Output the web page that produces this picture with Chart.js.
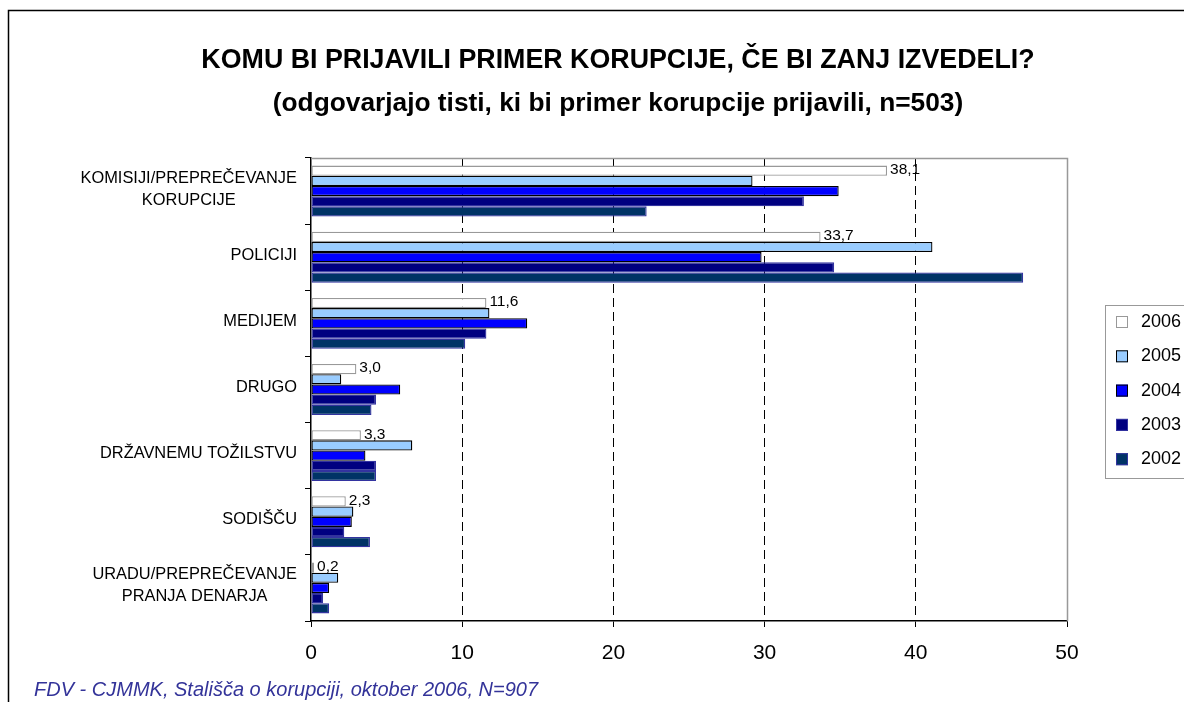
<!DOCTYPE html>
<html>
<head>
<meta charset="utf-8">
<script src="https://cdn.jsdelivr.net/npm/chart.js@4.4.1/dist/chart.umd.min.js"></script>
<style>
  body { margin: 0; background: #fff; }
  canvas { display: block; }
</style>
</head>
<body>
<canvas id="chart" width="1184" height="702"></canvas>
<script>
// podatki
const categories = [
    ["KOMISIJI/PREPREČEVANJE", "KORUPCIJE"],
    ["POLICIJI"],
    ["MEDIJEM"],
    ["DRUGO"],
    ["DRŽAVNEMU TOŽILSTVU"],
    ["SODIŠČU"],
    ["URADU/PREPREČEVANJE", "PRANJA DENARJA"]
];
const years = ["2006", "2005", "2004", "2003", "2002"];
const values2006 = [38.1, 33.7, 11.6, 3.0, 3.3, 2.3, 0.2];
const values2005 = [29.2, 41.1, 11.8, 2.0, 6.7, 2.8, 1.8];
const values2004 = [34.9, 29.8, 14.3, 5.9, 3.6, 2.7, 1.2];
const values2003 = [32.6, 34.6, 11.6, 4.3, 4.3, 2.2, 0.8];
const values2002 = [22.2, 47.1, 10.2, 4.0, 4.3, 3.9, 1.2];
const xTicks = [0, 10, 20, 30, 40, 50];

const titleText = "KOMU BI PRIJAVILI PRIMER KORUPCIJE, ČE BI ZANJ IZVEDELI?";
const subtitleText = "(odgovarjajo tisti, ki bi primer korupcije prijavili, n=503)";
const sourceText = "FDV - CJMMK, Stališča o korupciji, oktober 2006, N=907";

const FONT = "'Liberation Sans', Arial, sans-serif";

const fills = ["#ffffff", "#99ccff", "#0000ff", "#000080", "#003366"];
const borders = ["#999999", "#000000", "#000000", "#3333a0", "#3333a0"];
const allValues = [values2006, values2005, values2004, values2003, values2002];

// okvir, naslovi, oznake kategorij, legenda
const decorPlugin = {
    id: 'decor',
    beforeDraw(chart) {
        const c = chart.ctx;
        c.save();
        c.fillStyle = '#fff';
        c.fillRect(0, 0, chart.width, chart.height);
        c.strokeStyle = '#000';
        c.lineWidth = 1.5;
        c.strokeRect(8.5, 10.5, chart.width + 20, chart.height + 20);
        c.restore();
    },
    afterDraw(chart) {
        const c = chart.ctx;
        const area = chart.chartArea;
        const yScale = chart.scales.y;
        c.save();

        // zgornji in desni rob risalne ploskve
        c.strokeStyle = '#999';
        c.lineWidth = 1.5;
        c.beginPath();
        c.moveTo(area.left, area.top + 0.5);
        c.lineTo(area.right + 0.5, area.top + 0.5);
        c.lineTo(area.right + 0.5, area.bottom);
        c.stroke();

        // naslova
        c.fillStyle = '#000';
        c.textAlign = 'center';
        c.textBaseline = 'middle';
        c.font = "bold 26.8px " + FONT;
        c.fillText(titleText, 618, 61);
        c.font = "bold 26.3px " + FONT;
        c.fillText(subtitleText, 618, 104);

        // oznake kategorij (poravnane desno, vrstice sredinsko)
        c.font = "16.4px " + FONT;
        categories.forEach((lines, i) => {
            const yc = yScale.getPixelForValue(i);
            const widest = Math.max(...lines.map(l => c.measureText(l).width));
            const xc = area.left - 14 - widest / 2;
            const lh = 22;
            lines.forEach((l, j) => {
                c.fillText(l, xc, yc + (j - (lines.length - 1) / 2) * lh - 2);
            });
        });

        // legenda
        c.strokeStyle = '#999';
        c.lineWidth = 1;
        c.strokeRect(1105.5, 305.5, 100, 173);
        c.font = "18px " + FONT;
        c.textAlign = 'left';
        chart.data.datasets.forEach((ds, i) => {
            const y = 322 + i * 34.3;
            c.fillStyle = ds.backgroundColor;
            c.fillRect(1116, y - 6, 12, 12);
            c.strokeStyle = ds.borderColor;
            c.strokeRect(1116.5, y - 5.5, 11, 11);
            c.fillStyle = '#000';
            c.fillText(ds.label, 1141, y);
        });

        // vir
        c.font = "italic 20px " + FONT;
        c.fillStyle = '#333399';
        c.textBaseline = 'alphabetic';
        c.fillText(sourceText, 34, 696);
        c.restore();
    }
};

// vrednosti za 2006
const labelPlugin = {
    id: 'labels2006',
    afterDatasetsDraw(chart) {
        const c = chart.ctx;
        const meta = chart.getDatasetMeta(0);
        c.save();
        c.font = "15.5px " + FONT;
        c.fillStyle = '#000';
        c.textAlign = 'left';
        c.textBaseline = 'middle';
        meta.data.forEach((bar, i) => {
            const txt = values2006[i].toFixed(1).replace('.', ',');
            c.fillText(txt, bar.x + 3, bar.y - 1);
        });
        c.restore();
    }
};

const ctx = document.getElementById('chart').getContext('2d');
const chart = new Chart(ctx, {
    type: 'bar',
    data: {
        labels: categories,
        datasets: years.map((y, i) => ({
            label: y,
            data: allValues[i],
            backgroundColor: fills[i],
            borderColor: borders[i],
            borderWidth: 1.3,
            borderSkipped: false,
            categoryPercentage: 0.77,
            barPercentage: 1
        }))
    },
    options: {
        indexAxis: 'y',
        responsive: false,
        devicePixelRatio: 1,
        animation: false,
        layout: { padding: { left: 305, right: 117, top: 158, bottom: 31 } },
        plugins: {
            legend: { display: false },
            tooltip: { enabled: false }
        },
        scales: {
            y: {
                type: 'category',
                offset: true,
                ticks: { display: false },
                grid: {
                    display: true,
                    offset: true,
                    drawOnChartArea: false,
                    drawTicks: true,
                    tickLength: 6,
                    color: '#000',
                    tickColor: '#000'
                },
                border: { display: true, color: '#000', width: 1.5 },
                afterFit(s) { s.width = 6; }
            },
            x: {
                type: 'linear',
                min: 0,
                max: 50,
                afterBuildTicks(s) { s.ticks = xTicks.map(v => ({ value: v })); },
                ticks: {
                    font: { family: FONT, size: 21 },
                    color: '#000',
                    padding: 14,
                    callback: v => v
                },
                grid: {
                    color: c => (c.tick && (c.tick.value === 0 || c.tick.value === 50)) ? 'rgba(0,0,0,0)' : '#000',
                    tickColor: '#000',
                    tickLength: 6,
                    tickBorderDash: [],
                    lineWidth: 1
                },
                border: { display: true, color: '#000', width: 1.5, dash: [9, 5] },
                afterFit(s) { s.height = 50; }
            }
        }
    },
    plugins: [decorPlugin, labelPlugin]
});
</script>
</body>
</html>
